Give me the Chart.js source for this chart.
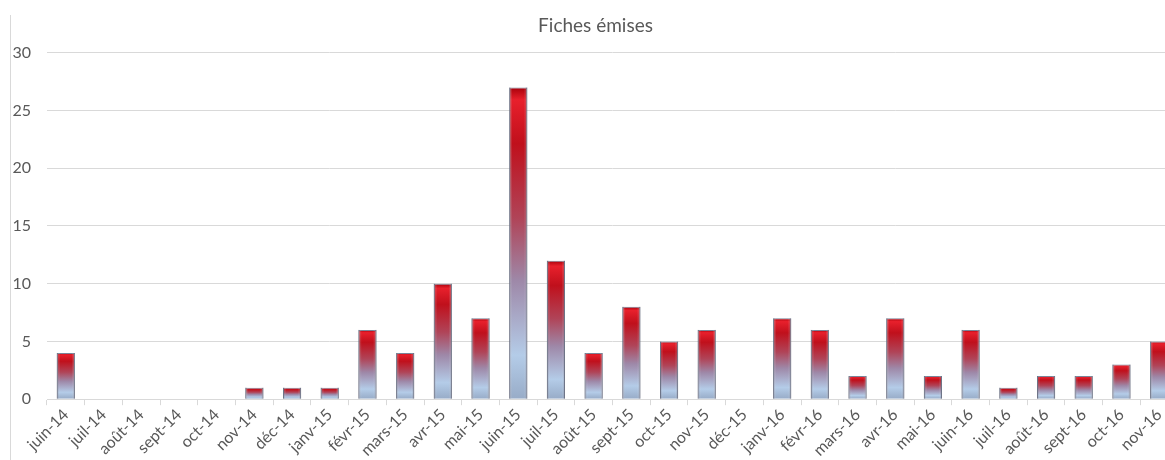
<!DOCTYPE html>
<html>
<head>
<meta charset="utf-8">
<script src="https://cdn.jsdelivr.net/npm/chart.js@4"></script>
<style>
  html, body { margin: 0; padding: 0; overflow: hidden; background: #fff; }
  #wrap { position: relative; width: 1178px; height: 460px; }
</style>
</head>
<body>
<div id="wrap"><canvas id="grafico"></canvas></div>
<script>
const mois = ['juin-14', 'juil-14', 'août-14', 'sept-14', 'oct-14', 'nov-14', 'déc-14', 'janv-15',
  'févr-15', 'mars-15', 'avr-15', 'mai-15', 'juin-15', 'juil-15', 'août-15', 'sept-15', 'oct-15',
  'nov-15', 'déc-15', 'janv-16', 'févr-16', 'mars-16', 'avr-16', 'mai-16', 'juin-16', 'juil-16',
  'août-16', 'sept-16', 'oct-16', 'nov-16'];
const fiches = [4, 0, 0, 0, 0, 1, 1, 1, 6, 4, 10, 7, 27, 12, 4, 8, 5, 6, 0, 7, 6, 2, 7, 2, 6, 1, 2, 2, 3, 5];
const graduations = [0, 5, 10, 15, 20, 25, 30];

// dégradé rouge -> bleu clair sur la hauteur de chaque barre
const degrade = {
  id: 'degrade',
  beforeDatasetsDraw(chart) {
    const c = chart.ctx;
    chart.getDatasetMeta(0).data.forEach(el => {
      const top = el.y, bas = el.base;
      if (bas - top < 1) return;
      const g = c.createLinearGradient(0, top, 0, bas);
      g.addColorStop(0, '#a8000a');
      g.addColorStop(0.04, '#e8202c');
      g.addColorStop(0.18, '#c0101c');
      g.addColorStop(0.42, '#b04458');
      g.addColorStop(0.62, '#9e88a8');
      g.addColorStop(0.86, '#b4cce8');
      g.addColorStop(1, '#98acc8');
      // les options sont partagées entre barres : on en fait une copie
      el.options = Object.assign({}, el.options, { backgroundColor: g });
    });
  },
  afterDatasetsDraw(chart) {
    // ombrage des bords de la barre (effet biseauté)
    const c = chart.ctx;
    chart.getDatasetMeta(0).data.forEach(el => {
      const top = el.y, bas = el.base, w = el.width;
      if (bas - top < 1) return;
      const x0 = el.x - w / 2;
      const h = c.createLinearGradient(x0, 0, x0 + w, 0);
      h.addColorStop(0, 'rgba(60,60,80,0.45)');
      h.addColorStop(0.18, 'rgba(255,255,255,0)');
      h.addColorStop(0.82, 'rgba(255,255,255,0)');
      h.addColorStop(1, 'rgba(60,60,80,0.45)');
      c.save();
      c.fillStyle = h;
      c.fillRect(x0, top, w, bas - top);
      c.restore();
    });
  }
};

// ligne verticale grise à gauche du graphique
const bordGauche = {
  id: 'bordGauche',
  beforeDraw(chart) {
    const c = chart.ctx;
    c.save();
    c.strokeStyle = '#d9d9d9';
    c.lineWidth = 1;
    c.beginPath();
    c.moveTo(10.5, 15);
    c.lineTo(10.5, 460);
    c.stroke();
    c.restore();
  }
};

new Chart(document.getElementById('grafico'), {
  type: 'bar',
  data: {
    labels: mois,
    datasets: [{
      label: 'Fiches émises',
      data: fiches,
      backgroundColor: '#c00000',
      borderColor: '#7a8498',
      borderWidth: 1,
      categoryPercentage: 1,
      barPercentage: 0.48
    }]
  },
  options: {
    responsive: true,
    maintainAspectRatio: false,
    animation: false,
    layout: { autoPadding: false, padding: { left: 13, right: 0, top: 8, bottom: 0 } },
    plugins: {
      legend: { display: false },
      tooltip: { enabled: false },
      title: {
        display: true,
        text: 'Fiches émises',
        color: '#595959',
        font: { family: 'Lato', size: 19, weight: 'normal' },
        padding: { top: 6, bottom: 16 }
      }
    },
    scales: {
      x: {
        grid: { drawOnChartArea: false, drawTicks: true, tickLength: 6, color: '#d9d9d9', offset: true },
        border: { display: true, color: '#d9d9d9' },
        ticks: {
          color: '#595959',
          font: { family: 'Lato', size: 16 },
          maxRotation: 45,
          minRotation: 45,
          autoSkip: false,
          padding: 0
        }
      },
      y: {
        min: 0,
        max: 30,
        afterBuildTicks(axis) { axis.ticks = graduations.map(v => ({ value: v })); },
        afterFit(axis) { axis.width = 34; },
        grid: { color: '#d9d9d9', drawTicks: false },
        border: { display: false },
        ticks: {
          color: '#595959',
          font: { family: 'Lato', size: 16 },
          padding: 16
        }
      }
    }
  },
  plugins: [bordGauche, degrade]
});
</script>
</body>
</html>
